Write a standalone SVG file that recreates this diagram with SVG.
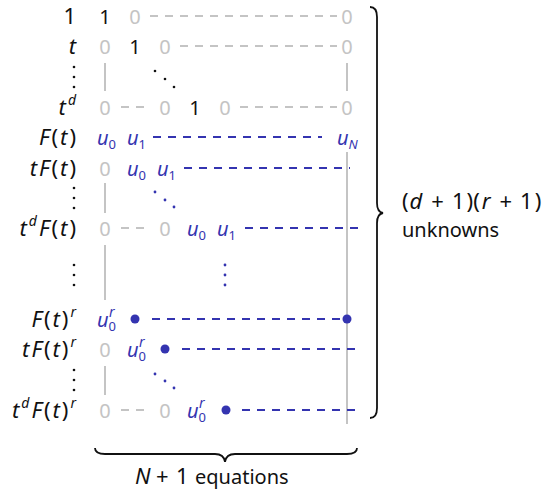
<svg xmlns="http://www.w3.org/2000/svg" width="547" height="494" viewBox="0 0 547 494">
<style>
text{font-family:"Noto Sans","Open Sans","DejaVu Sans",sans-serif;font-size:20px;fill:#111}
.i{font-style:italic}
.n{font-style:normal}
.lab{text-anchor:end;font-size:22px;letter-spacing:2px}
.m{font-size:22px}
.z{fill:#c4c4c4;text-anchor:middle}
.one{text-anchor:middle}
.b{fill:#3434b0;font-style:italic}
.sub{font-size:13px}
.sup{font-size:14px}
.gl{stroke:#c4c4c4;stroke-width:2;fill:none}
.gd{stroke:#c4c4c4;stroke-width:2;stroke-dasharray:8 7;fill:none}
.bd{stroke:#3434b0;stroke-width:2.2;stroke-dasharray:8 7;fill:none}
.dot{fill:#3434b0}
.kd{fill:#111}
.brace{stroke:#111;stroke-width:1.8;fill:none}
</style>
<rect width="547" height="494" fill="#fff"/>

<g id="labels">
<text class="lab" x="78" y="24">1</text>
<text class="lab i" x="78" y="54">t</text>
<g class="kd"><circle cx="74" cy="67" r="1.3"/><circle cx="74" cy="77" r="1.3"/><circle cx="74" cy="87" r="1.3"/></g>
<text class="lab" x="78" y="115"><tspan class="i">t</tspan><tspan class="sup i" dy="-10">d</tspan></text>
<text class="lab" x="78" y="145"><tspan class="i">F</tspan>(<tspan class="i">t</tspan>)</text>
<text class="lab" x="78" y="176"><tspan class="i">tF</tspan>(<tspan class="i">t</tspan>)</text>
<g class="kd"><circle cx="74" cy="188" r="1.3"/><circle cx="74" cy="198" r="1.3"/><circle cx="74" cy="208" r="1.3"/></g>
<text class="lab" x="78" y="236"><tspan class="i">t</tspan><tspan class="sup i" dy="-10">d</tspan><tspan dy="10" class="i">F</tspan>(<tspan class="i">t</tspan>)</text>
<g class="kd"><circle cx="74" cy="265" r="1.3"/><circle cx="74" cy="275" r="1.3"/><circle cx="74" cy="285" r="1.3"/></g>
<text class="lab" x="78" y="327"><tspan class="i">F</tspan>(<tspan class="i">t</tspan>)<tspan class="sup i" dy="-10">r</tspan></text>
<text class="lab" x="78" y="357"><tspan class="i">tF</tspan>(<tspan class="i">t</tspan>)<tspan class="sup i" dy="-10">r</tspan></text>
<g class="kd"><circle cx="74" cy="370" r="1.3"/><circle cx="74" cy="380" r="1.3"/><circle cx="74" cy="390" r="1.3"/></g>
<text class="lab" x="78" y="418"><tspan class="i">t</tspan><tspan class="sup i" dy="-10">d</tspan><tspan dy="10" class="i">F</tspan>(<tspan class="i">t</tspan>)<tspan class="sup i" dy="-10">r</tspan></text>
</g>

<g id="connectors">
<path class="gl" d="M105,63V91M347,63V91M105,183V213M105,245V300M105,366V395M347,152V424"/>
<path class="gd" d="M150,16H337M180,46H337M121,107H149M240,107H337M121,228H149M121,410H149"/>
<path class="bd" d="M153,137H322M184,168H350M245,228H361M152,319H342M182,349H361M242,410H361"/>
</g>

<g id="row-1">
<text class="one" x="105" y="24">1</text>
<text class="z" x="135" y="24">0</text>
<text class="z" x="347" y="24">0</text>
</g>
<g id="row-t">
<text class="z" x="105" y="54">0</text>
<text class="one" x="135" y="54">1</text>
<text class="z" x="165" y="54">0</text>
<text class="z" x="347" y="54">0</text>
<g class="kd"><circle cx="155" cy="71" r="1.3"/><circle cx="165" cy="79" r="1.3"/><circle cx="174" cy="87" r="1.3"/></g>
</g>
<g id="row-td">
<text class="z" x="105" y="115">0</text>
<text class="z" x="165" y="115">0</text>
<text class="one" x="195" y="115">1</text>
<text class="z" x="225" y="115">0</text>
<text class="z" x="347" y="115">0</text>
</g>
<g id="row-F">
<text class="b" x="97" y="145">u<tspan class="sub n" dy="4">0</tspan></text>
<text class="b" x="127" y="145">u<tspan class="sub n" dy="4">1</tspan></text>
<text class="b" x="337" y="145">u<tspan class="sub" dy="4">N</tspan></text>
</g>
<g id="row-tF">
<text class="z" x="105" y="176">0</text>
<text class="b" x="127" y="176">u<tspan class="sub n" dy="4">0</tspan></text>
<text class="b" x="157" y="176">u<tspan class="sub n" dy="4">1</tspan></text>
<g class="dot"><circle cx="155" cy="192" r="1.4"/><circle cx="165" cy="200" r="1.4"/><circle cx="174" cy="207" r="1.4"/></g>
</g>
<g id="row-tdF">
<text class="z" x="105" y="236">0</text>
<text class="z" x="165" y="236">0</text>
<text class="b" x="187" y="236">u<tspan class="sub n" dy="4">0</tspan></text>
<text class="b" x="217" y="236">u<tspan class="sub n" dy="4">1</tspan></text>
<g class="dot"><circle cx="225" cy="265" r="1.4"/><circle cx="225" cy="275" r="1.4"/><circle cx="225" cy="285" r="1.4"/></g>
</g>
<g id="row-Fr">
<text class="b" x="97" y="327">u<tspan class="sub n" dy="4">0</tspan><tspan class="sup" dx="-7" dy="-14">r</tspan></text>
<circle class="dot" cx="135" cy="319" r="4.5"/>
<circle class="dot" cx="347" cy="319" r="4.5"/>
</g>
<g id="row-tFr">
<text class="z" x="105" y="357">0</text>
<text class="b" x="127" y="357">u<tspan class="sub n" dy="4">0</tspan><tspan class="sup" dx="-7" dy="-14">r</tspan></text>
<circle class="dot" cx="165" cy="349" r="4.5"/>
<g class="dot"><circle cx="155" cy="374" r="1.4"/><circle cx="165" cy="381" r="1.4"/><circle cx="174" cy="388" r="1.4"/></g>
</g>
<g id="row-tdFr">
<text class="z" x="105" y="418">0</text>
<text class="z" x="165" y="418">0</text>
<text class="b" x="187" y="418">u<tspan class="sub n" dy="4">0</tspan><tspan class="sup" dx="-7" dy="-14">r</tspan></text>
<circle class="dot" cx="226" cy="410" r="4.5"/>
</g>

<g id="brace-right">
<path class="brace" d="M370,7Q377,7 377,17V203Q377,212 383,213Q377,214 377,223V408Q377,418 370,418"/>
<text class="m" x="402" y="209">(<tspan class="i" dx="1">d</tspan><tspan dx="9">+</tspan><tspan dx="8">1</tspan><tspan dx="2">)(</tspan><tspan class="i" dx="2">r</tspan><tspan dx="9">+</tspan><tspan dx="8">1</tspan><tspan dx="2">)</tspan></text>
<text x="402" y="237">unknowns</text>
</g>
<g id="brace-bottom">
<path class="brace" d="M95,448Q95,454 105,454H215Q224,454 225,462Q226,454 235,454H347Q357,454 357,448"/>
<text class="m i" x="135" y="484">N</text>
<text class="m" x="156" y="484">+</text>
<text class="m" x="176" y="484">1</text>
<text x="195" y="484">equations</text>
</g>
</svg>
